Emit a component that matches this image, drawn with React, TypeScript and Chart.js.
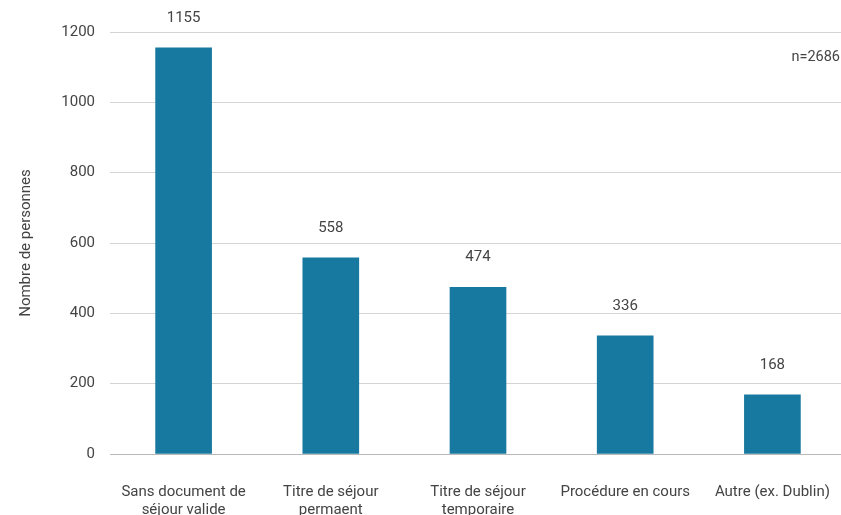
import React, { useEffect, useRef } from "react";
import { Chart, registerables } from "chart.js";

Chart.register(...registerables);

const categories: string[][] = [
  ["Sans document de", "séjour valide"],
  ["Titre de séjour", "permaent"],
  ["Titre de séjour", "temporaire"],
  ["Procédure en cours"],
  ["Autre (ex. Dublin)"],
];
const values: number[] = [1155, 558, 474, 336, 168];
const yMin = 0;
const yMax = 1200;
const yStep = 200;
const yTitle = "Nombre de personnes";
const sampleNote = "n=2686";

const FONT = "Roboto, 'Noto Sans', sans-serif";
const TEXT = "#444444";
const BAR = "#17799f";

const valueLabels = {
  id: "valueLabels",
  afterDatasetsDraw(chart: any) {
    const { ctx } = chart;
    const meta = chart.getDatasetMeta(0);
    ctx.save();
    ctx.font = `15px ${FONT}`;
    ctx.fillStyle = TEXT;
    ctx.textAlign = "center";
    ctx.textBaseline = "middle";
    meta.data.forEach((el: any, i: number) => {
      ctx.fillText(String(values[i]), el.x, el.y - 30);
    });
    ctx.restore();
  },
};

const noteLabel = {
  id: "noteLabel",
  afterDraw(chart: any) {
    const { ctx, chartArea } = chart;
    ctx.save();
    ctx.font = `14.5px ${FONT}`;
    ctx.fillStyle = TEXT;
    ctx.textAlign = "right";
    ctx.textBaseline = "middle";
    ctx.fillText(sampleNote, chartArea.right - 6, 57);
    ctx.restore();
  },
};

export default function App() {
  const ref = useRef<HTMLCanvasElement | null>(null);

  useEffect(() => {
    if (!ref.current) return;
    const chart = new Chart(ref.current, {
      type: "bar",
      data: {
        labels: categories,
        datasets: [
          {
            data: values,
            backgroundColor: BAR,
            borderWidth: 0,
            barThickness: 56,
          },
        ],
      },
      options: {
        animation: false,
        responsive: false,
        devicePixelRatio: 1,
        layout: { padding: { top: 32, left: 0, right: 0, bottom: 0 } },
        plugins: {
          legend: { display: false },
          tooltip: { enabled: false },
          title: { display: false },
        },
        scales: {
          x: {
            grid: { display: false, drawTicks: false },
            border: { display: false },
            ticks: {
              color: TEXT,
              font: { family: FONT, size: 15, lineHeight: 1.2 },
              padding: 29,
              maxRotation: 0,
              autoSkip: false,
            },
            afterFit(scale: any) {
              scale.height = 61;
              scale.paddingLeft = 0;
              scale.paddingRight = 0;
            },
          },
          y: {
            min: yMin,
            max: yMax,
            grid: {
              drawTicks: false,
              color: (c: any) => (c.tick && c.tick.value === 0 ? "#b8b8b8" : "#d4d4d4"),
              lineWidth: 1,
            },
            border: { display: false },
            ticks: {
              stepSize: yStep,
              color: TEXT,
              font: { family: FONT, size: 15 },
              padding: 15,
              callback: (v: any) => String(v),
            },
            title: {
              display: true,
              text: yTitle,
              color: TEXT,
              font: { family: FONT, size: 15, lineHeight: 1.2 },
              padding: { top: 17, bottom: 0 },
            },
            afterFit(scale: any) {
              scale.width = 110;
              scale.paddingTop = 0;
              scale.paddingBottom = 0;
            },
          },
        },
      },
      plugins: [valueLabels, noteLabel],
    });
    return () => chart.destroy();
  }, []);

  return (
    <div
      style={{
        position: "fixed",
        left: 0,
        top: 0,
        width: 841,
        height: 515,
        overflow: "hidden",
        background: "#ffffff",
      }}
    >
      <canvas ref={ref} width={846} height={515} style={{ width: 846, height: 515, display: "block" }} />
    </div>
  );
}
